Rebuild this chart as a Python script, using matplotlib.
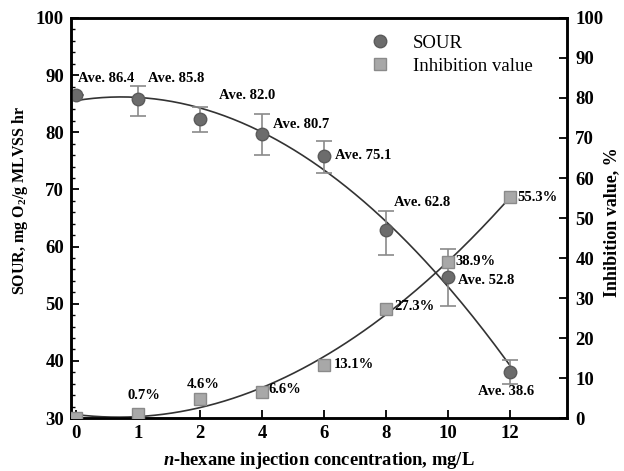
import numpy as np
import matplotlib
matplotlib.use("Agg")
import matplotlib.pyplot as plt
from matplotlib.ticker import MultipleLocator

# data
conc_labels = ["0", "1", "2", "4", "6", "8", "10", "12"]
sour = [86.5, 85.8, 82.3, 79.7, 75.9, 62.9, 54.7, 38.1]
sour_hi = [86.5, 88.1, 84.4, 83.2, 78.5, 66.2, 59.6, 40.2]
sour_lo = [86.5, 82.9, 80.0, 76.0, 72.9, 58.5, 49.6, 36.0]
sour_text = ["Ave. 86.4", "Ave. 85.8", "Ave. 82.0", "Ave. 80.7",
             "Ave. 75.1", "Ave. 62.8", "Ave. 52.8", "Ave. 38.6"]
inhib = [0.0, 0.9, 4.7, 6.6, 13.2, 27.3, 39.0, 55.2]
inhib_text = [None, "0.7%", "4.6%", "6.6%", "13.1%", "27.3%", "38.9%", "55.3%"]

plt.rcParams["font.family"] = ["Liberation Serif", "DejaVu Serif"]
plt.rcParams["font.weight"] = "bold"
plt.rcParams["mathtext.fontset"] = "custom"
plt.rcParams["mathtext.rm"] = "Liberation Serif:bold"
plt.rcParams["mathtext.it"] = "Liberation Serif:italic:bold"
plt.rcParams["mathtext.bf"] = "Liberation Serif:bold"

x = np.arange(len(conc_labels))

fig = plt.figure(figsize=(6.24, 4.71), dpi=100)
ax = fig.add_axes([0.1138, 0.1125, 0.7949, 0.8493])
ax2 = ax.twinx()

# fitted trend lines
xs = np.linspace(0, 7, 200)
p1 = np.polyfit(x, sour, 2)
p2 = np.polyfit(x, inhib, 2)
ax.plot(xs, np.polyval(p1, xs), color="#333333", lw=1.2, zorder=2)
ax2.plot(xs, np.polyval(p2, xs), color="#333333", lw=1.2, zorder=2)

yerr = [np.array(sour) - np.array(sour_lo), np.array(sour_hi) - np.array(sour)]
ax.errorbar(x, sour, yerr=yerr, fmt="none", ecolor="#8a8a8a", elinewidth=1.2,
            capsize=6, capthick=1.2, zorder=3)
h1, = ax.plot(x, sour, "o", ms=9, color="#6c6c6c", mec="#5a5a5a", zorder=4,
              label="SOUR")
h2, = ax2.plot(x, inhib, "s", ms=8.5, color="#a8a8a8", mec="#8a8a8a", zorder=4,
               label="Inhibition value")

sour_off = [(2, 17), (10, 21), (19, 24), (11, 9), (11, 0), (8, 28), (10, -4),
            (-32, -20)]
for i, t in enumerate(sour_text):
    ax.annotate(t, (x[i], sour[i]), xytext=sour_off[i],
                textcoords="offset pixels", ha="left", va="center",
                fontsize=10.5, fontweight="bold")

inhib_off = [None, (-10, 19), (-13, 15), (7, 2), (10, 1), (8, 2), (7, 1), (7, 0)]
for i, t in enumerate(inhib_text):
    if t is None:
        continue
    ax2.annotate(t, (x[i], inhib[i]), xytext=inhib_off[i],
                 textcoords="offset pixels", ha="left", va="center",
                 fontsize=10.5, fontweight="bold")

ax.set_xlim(-0.08, 7.92)
ax.set_ylim(30, 100)
ax2.set_ylim(0, 100)
ax.set_xticks(x)
ax.set_xticklabels(conc_labels)
ax.yaxis.set_major_locator(MultipleLocator(10))
ax.yaxis.set_minor_locator(MultipleLocator(2))
ax2.yaxis.set_major_locator(MultipleLocator(10))

ax.tick_params(axis="both", which="major", direction="in", length=6, width=1.3,
               labelsize=13.5, pad=5)
ax.tick_params(axis="y", which="minor", direction="in", length=3, width=1)
ax2.tick_params(axis="y", which="major", direction="in", length=6, width=1.3,
                labelsize=13.5, pad=6)

for a in (ax, ax2):
    for s in a.spines.values():
        s.set_linewidth(1.8)

ax.set_xlabel("$n$-hexane injection concentration, mg/L", fontsize=13.3,
              fontweight="bold", labelpad=6)
ax.set_ylabel("SOUR, mg O$_2$/g MLVSS hr", fontsize=11.5, fontweight="bold")
ax.yaxis.set_label_coords(-0.083, 0.545)
ax2.set_ylabel("Inhibition value, %", fontsize=13, fontweight="bold")
ax2.yaxis.set_label_coords(1.072, 0.49)

leg = ax2.legend(handles=[h1, h2], loc="upper left",
                 bbox_to_anchor=(0.56, 1.0), frameon=False,
                 prop={"size": 13.5, "weight": "normal"}, handletextpad=1.0,
                 handlelength=1.5, labelspacing=0.3)

fig.savefig("out.png", dpi=100)
